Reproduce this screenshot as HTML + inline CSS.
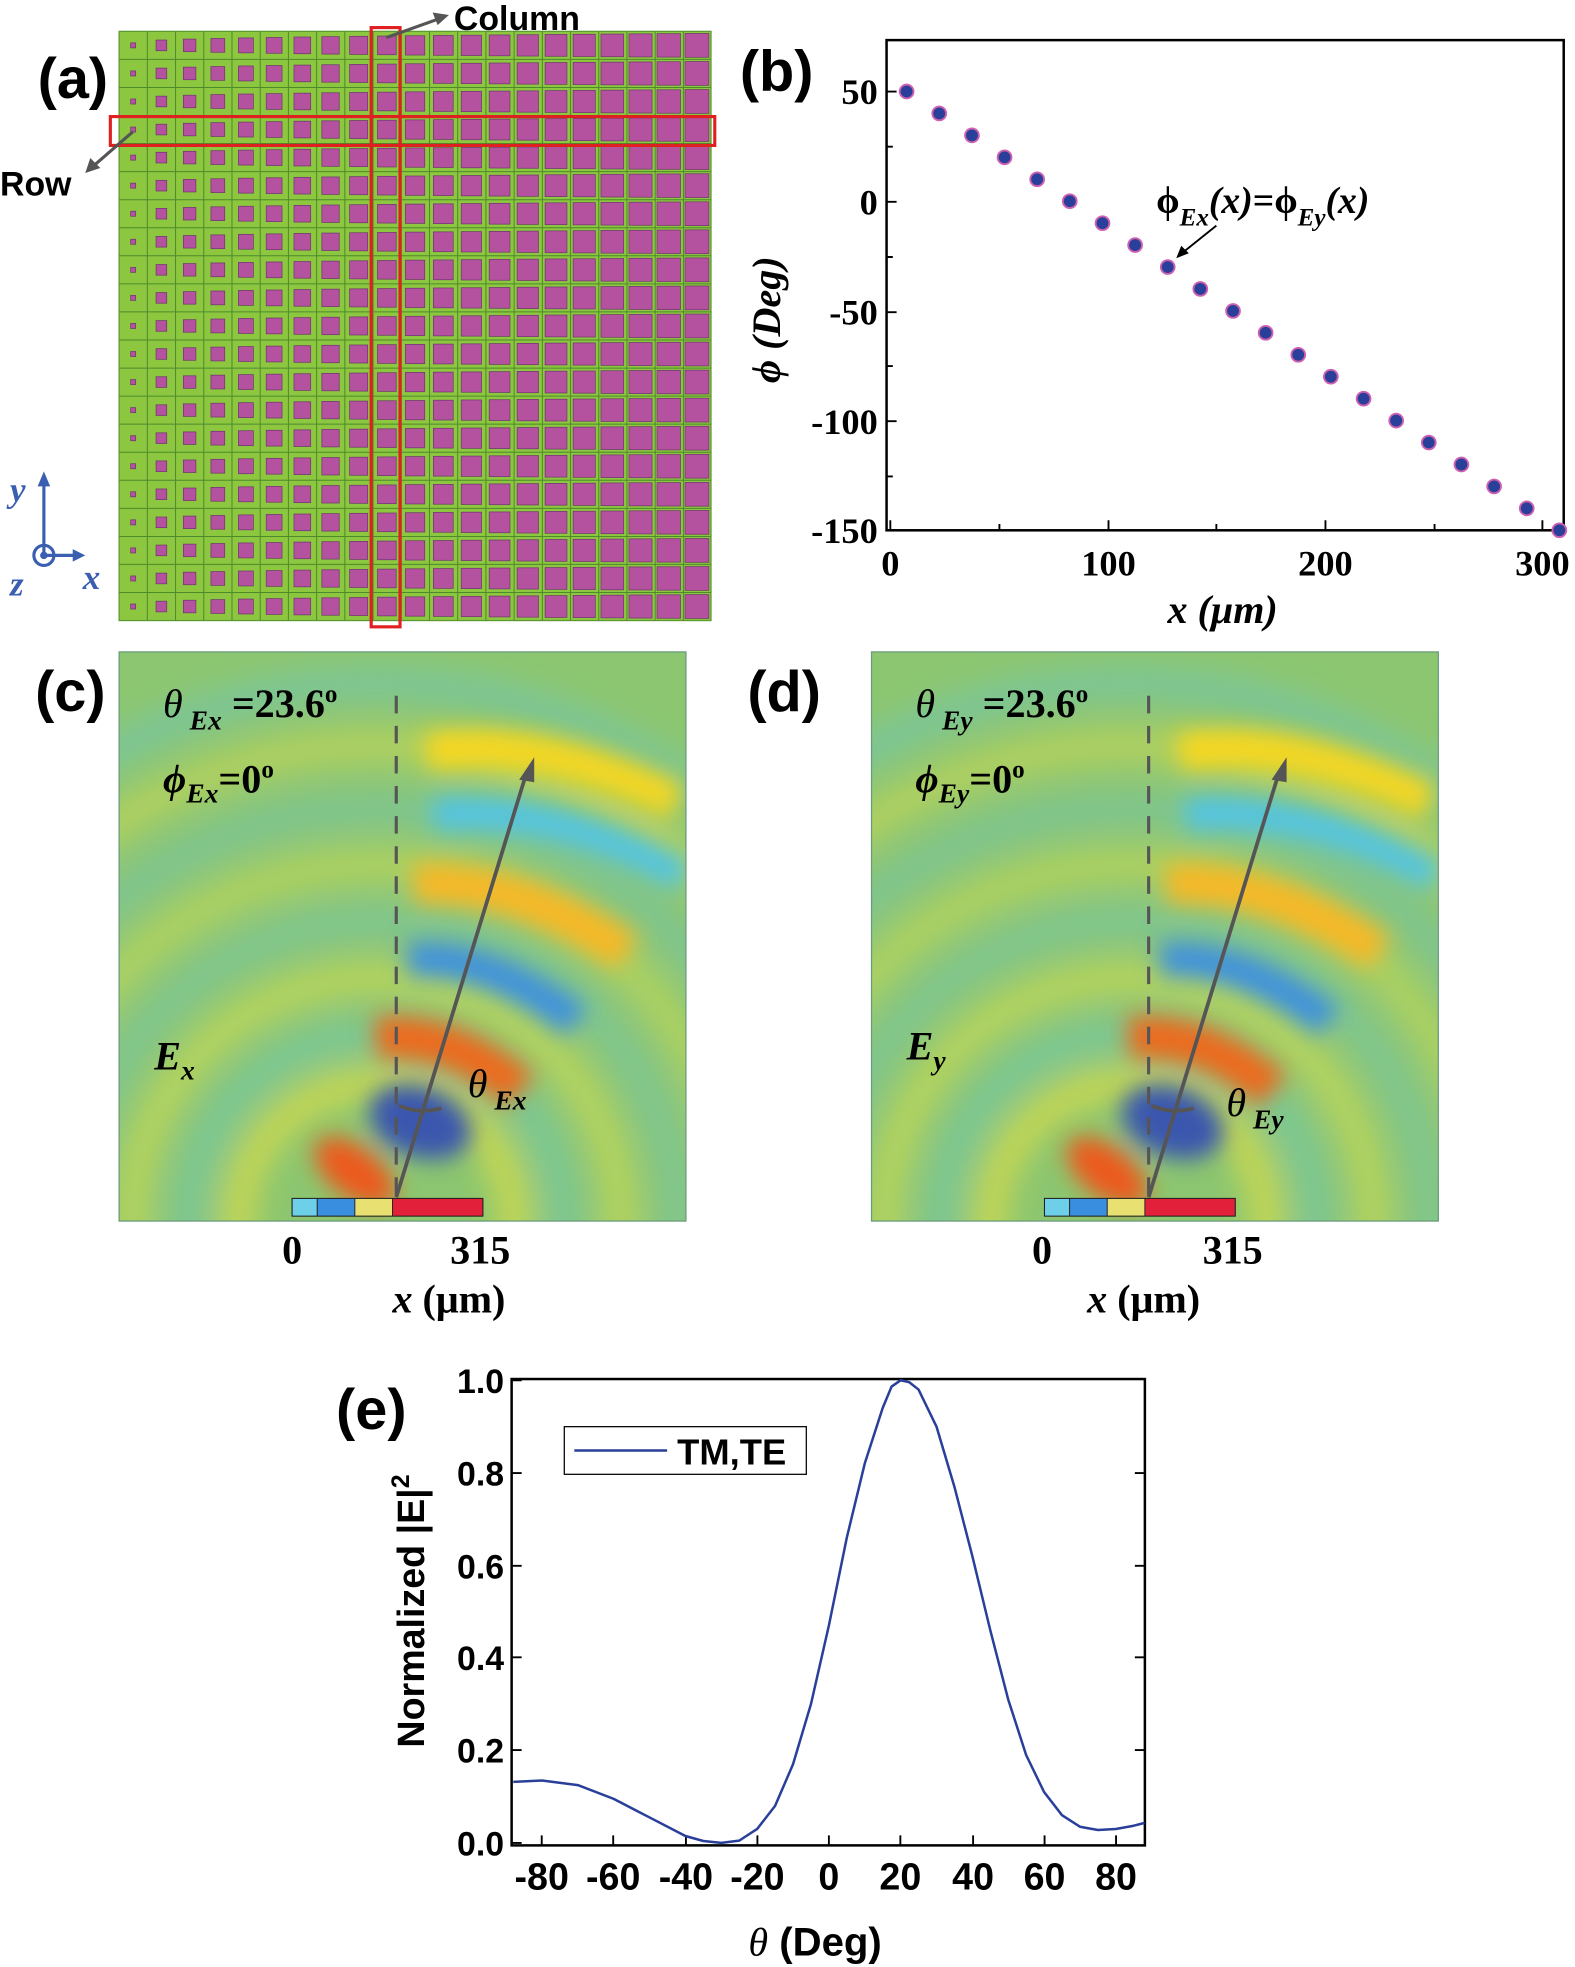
<!DOCTYPE html>
<html><head><meta charset="utf-8"><style>html,body{margin:0;padding:0;background:#fff}svg{display:block}</style></head>
<body>
<svg width="1575" height="1967" viewBox="0 0 1256 1569" preserveAspectRatio="none" xmlns="http://www.w3.org/2000/svg" xmlns:xlink="http://www.w3.org/1999/xlink" font-family="Liberation Sans, sans-serif">
<defs>
<filter id="bl" x="-50%" y="-50%" width="200%" height="200%"><feGaussianBlur stdDeviation="12"/></filter>
<filter id="bl2" x="-50%" y="-50%" width="200%" height="200%"><feGaussianBlur stdDeviation="9"/></filter>
<clipPath id="cc"><rect x="95" y="520" width="452" height="454"/></clipPath>
<g id="row" fill="#b5529f" stroke="#6e3a6e" stroke-width="0.6">
<rect x="104.2" y="34.2" width="4" height="4"/>
<rect x="124.45" y="31.95" width="8.5" height="8.5"/>
<rect x="146.2" y="31.2" width="10" height="10"/>
<rect x="168.2" y="30.7" width="11" height="11"/>
<rect x="190.15" y="30.25" width="11.9" height="11.9"/>
<rect x="212.3" y="29.9" width="12.6" height="12.6"/>
<rect x="234.45" y="29.55" width="13.3" height="13.3"/>
<rect x="256.65" y="29.25" width="13.9" height="13.9"/>
<rect x="278.8" y="29" width="14.4" height="14.4"/>
<rect x="301.05" y="28.75" width="14.9" height="14.9"/>
<rect x="323.3" y="28.5" width="15.4" height="15.4"/>
<rect x="345.6" y="28.3" width="15.8" height="15.8"/>
<rect x="367.8" y="28.1" width="16.2" height="16.2"/>
<rect x="390.1" y="27.9" width="16.6" height="16.6"/>
<rect x="412.4" y="27.7" width="17" height="17"/>
<rect x="434.7" y="27.5" width="17.4" height="17.4"/>
<rect x="457.05" y="27.35" width="17.7" height="17.7"/>
<rect x="479.25" y="27.15" width="18.1" height="18.1"/>
<rect x="501.6" y="27" width="18.4" height="18.4"/>
<rect x="523.95" y="26.85" width="18.7" height="18.7"/>
<rect x="546.3" y="26.7" width="19" height="19"/>
</g>
<g id="field">
<rect x="95" y="520" width="452" height="454" fill="#8cc670"/>
<g filter="url(#bl)" fill="none" stroke-width="24">
<circle cx="300" cy="975" r="110" stroke="#f3e43a" opacity=".6"/>
<circle cx="300" cy="975" r="150" stroke="#5cc8d8" opacity=".4"/>
<circle cx="300" cy="975" r="195" stroke="#e9e545" opacity=".5"/>
<circle cx="300" cy="975" r="240" stroke="#62c6d8" opacity=".35"/>
<circle cx="300" cy="975" r="285" stroke="#e0e24a" opacity=".45"/>
<circle cx="300" cy="975" r="330" stroke="#60c4d6" opacity=".35"/>
<circle cx="300" cy="975" r="380" stroke="#e8e048" opacity=".45"/>
<circle cx="300" cy="975" r="430" stroke="#5ec4dc" opacity=".4"/>
</g>
<g filter="url(#bl2)">
<path d="M340 600 Q430 585 540 640" stroke="#ffd81a" stroke-width="30" fill="none" opacity=".9"/>
<path d="M345 650 Q440 640 545 700" stroke="#4cc4ec" stroke-width="26" fill="none" opacity=".9"/>
<path d="M330 705 Q410 700 500 760" stroke="#f6b825" stroke-width="32" fill="none"/>
<path d="M325 765 Q390 760 460 815" stroke="#3f92dc" stroke-width="28" fill="none"/>
<path d="M300 828 Q360 822 415 870" stroke="#ec6a1e" stroke-width="34" fill="none"/>
<ellipse cx="335" cy="895" rx="42" ry="28" transform="rotate(20 335 895)" fill="#3a56ae"/>
<ellipse cx="283" cy="935" rx="38" ry="20" transform="rotate(38 283 935)" fill="#ec5a1c"/>
</g>
<rect x="233" y="956" width="152" height="14" fill="#fff" stroke="#222" stroke-width="1"/>
<g stroke="#222" stroke-width="0.7">
<rect x="233" y="956" width="20" height="14" fill="#6ed0e8"/><rect x="253" y="956" width="30" height="14" fill="#3a8ee0"/><rect x="283" y="956" width="30" height="14" fill="#e8e070"/><rect x="313" y="956" width="72" height="14" fill="#e2203a"/>
</g>
<line x1="316" y1="555" x2="316" y2="955" stroke="#555" stroke-width="2.5" stroke-dasharray="14,10"/>
<line x1="316" y1="955" x2="420" y2="616" stroke="#555" stroke-width="3"/>
<polygon points="426,604 414,622 426,624" fill="#555"/>
<path d="M318 882 Q335 889 352 884" fill="none" stroke="#555" stroke-width="3"/>
</g>
</defs>

<!-- (a) -->
<text x="30" y="78" font-size="46" font-weight="bold">(a)</text>
<rect x="95" y="25" width="472" height="470" fill="#8dc63f" stroke="#5a9a30"/>
<g stroke="#4d8a2c" stroke-width="0.8" fill="none">
<path d="M117.5 25V495M140 25V495M162.5 25V495M185 25V495M207.5 25V495M230 25V495M252.5 25V495M275 25V495M297.5 25V495M320 25V495M342.5 25V495M365 25V495M387.5 25V495M410 25V495M432.5 25V495M455 25V495M477.5 25V495M500 25V495M522.5 25V495M545 25V495"/>
<path d="M95 47.4H567M95 69.8H567M95 92.1H567M95 114.5H567M95 136.9H567M95 159.3H567M95 181.7H567M95 204H567M95 226.4H567M95 248.8H567M95 271.2H567M95 293.6H567M95 316H567M95 338.3H567M95 360.7H567M95 383.1H567M95 405.5H567M95 427.9H567M95 450.2H567M95 472.6H567"/>
</g>
<use href="#row" xlink:href="#row"/>
<use href="#row" xlink:href="#row" y="22.38"/>
<use href="#row" xlink:href="#row" y="44.76"/>
<use href="#row" xlink:href="#row" y="67.14"/>
<use href="#row" xlink:href="#row" y="89.52"/>
<use href="#row" xlink:href="#row" y="111.9"/>
<use href="#row" xlink:href="#row" y="134.28"/>
<use href="#row" xlink:href="#row" y="156.66"/>
<use href="#row" xlink:href="#row" y="179.04"/>
<use href="#row" xlink:href="#row" y="201.42"/>
<use href="#row" xlink:href="#row" y="223.8"/>
<use href="#row" xlink:href="#row" y="246.18"/>
<use href="#row" xlink:href="#row" y="268.56"/>
<use href="#row" xlink:href="#row" y="290.94"/>
<use href="#row" xlink:href="#row" y="313.32"/>
<use href="#row" xlink:href="#row" y="335.7"/>
<use href="#row" xlink:href="#row" y="358.08"/>
<use href="#row" xlink:href="#row" y="380.46"/>
<use href="#row" xlink:href="#row" y="402.84"/>
<use href="#row" xlink:href="#row" y="425.22"/>
<use href="#row" xlink:href="#row" y="447.6"/>
<rect x="88" y="93" width="482" height="23" fill="none" stroke="#e02020" stroke-width="2.5"/>
<rect x="296" y="22" width="23" height="478" fill="none" stroke="#e02020" stroke-width="2.5"/>
<line x1="308" y1="30" x2="350" y2="15" stroke="#555" stroke-width="2.5"/><polygon points="358,12 345,10 349,20" fill="#555"/>
<text x="362" y="24" font-size="27" font-weight="bold">Column</text>
<line x1="106" y1="105" x2="75" y2="132" stroke="#555" stroke-width="2.5"/><polygon points="68,138 72,126 80,134" fill="#555"/>
<text x="0" y="156" font-size="27" font-weight="bold">Row</text>
<g stroke="#3a5fb0" stroke-width="2.5" fill="none"><line x1="35" y1="443" x2="35" y2="385"/><line x1="35" y1="443" x2="62" y2="443"/><circle cx="35" cy="443" r="8"/></g>
<circle cx="35" cy="443" r="3" fill="#3a5fb0"/>
<polygon points="35,376 30,388 40,388" fill="#3a5fb0"/><polygon points="68,443 58,438 58,448" fill="#3a5fb0"/>
<g font-family="Liberation Serif, serif" font-style="italic" font-weight="bold" fill="#3a5fb0" font-size="28"><text x="8" y="400">y</text><text x="8" y="475">z</text><text x="66" y="470">x</text></g>

<!-- (b) -->
<text x="590" y="72" font-size="46" font-weight="bold">(b)</text>
<rect x="707" y="32" width="540" height="391" fill="none" stroke="#000" stroke-width="2"/>
<g stroke="#000" stroke-width="1.5">
<path d="M710 423v-8M797 423v-5M884 423v-8M970 423v-5M1057 423v-8M1144 423v-5M1230 423v-8"/>
<path d="M707 73h8M707 117h5M707 161h8M707 205h5M707 249h8M707 292h5M707 336h8M707 380h5M707 423h8"/>
</g>
<g font-family="Liberation Serif, serif" font-weight="bold" font-size="29" text-anchor="end">
<text x="700" y="83">50</text><text x="700" y="171">0</text><text x="700" y="259">-50</text><text x="700" y="346">-100</text><text x="700" y="433">-150</text></g>
<g font-family="Liberation Serif, serif" font-weight="bold" font-size="29" text-anchor="middle">
<text x="710" y="459">0</text><text x="884" y="459">100</text><text x="1057" y="459">200</text><text x="1230" y="459">300</text></g>
<text x="975" y="497" font-family="Liberation Serif, serif" font-weight="bold" font-style="italic" font-size="32" text-anchor="middle">x (μm)</text>
<text transform="translate(622 255) rotate(-90)" font-family="Liberation Serif, serif" font-weight="bold" font-style="italic" font-size="32" text-anchor="middle">ϕ (Deg)</text>
<g fill="#2a3f9a" stroke="#d060b0" stroke-width="1.5">
<circle cx="723" cy="73" r="5.5"/><circle cx="749" cy="90.5" r="5.5"/><circle cx="775.1" cy="108" r="5.5"/><circle cx="801.1" cy="125.5" r="5.5"/><circle cx="827.1" cy="143" r="5.5"/><circle cx="853.1" cy="160.5" r="5.5"/><circle cx="879.2" cy="178" r="5.5"/><circle cx="905.2" cy="195.5" r="5.5"/><circle cx="931.2" cy="213" r="5.5"/><circle cx="957.2" cy="230.5" r="5.5"/><circle cx="983.3" cy="248" r="5.5"/><circle cx="1009.3" cy="265.5" r="5.5"/><circle cx="1035.3" cy="283" r="5.5"/><circle cx="1061.3" cy="300.5" r="5.5"/><circle cx="1087.4" cy="318" r="5.5"/><circle cx="1113.4" cy="335.5" r="5.5"/><circle cx="1139.4" cy="353" r="5.5"/><circle cx="1165.4" cy="370.5" r="5.5"/><circle cx="1191.5" cy="388" r="5.5"/><circle cx="1217.5" cy="405.5" r="5.5"/><circle cx="1243.5" cy="423" r="5.5"/>
</g>
<text x="922" y="170" font-family="Liberation Serif, serif" font-weight="bold" font-size="30">ϕ<tspan font-style="italic" font-size="20" dy="10">Ex</tspan><tspan dy="-10" font-style="italic">(x)</tspan>=ϕ<tspan font-style="italic" font-size="20" dy="10">Ey</tspan><tspan dy="-10" font-style="italic">(x)</tspan></text>
<line x1="970" y1="180" x2="945" y2="200" stroke="#000" stroke-width="1.5"/><polygon points="938,206 942,196 948,202" fill="#000"/>

<!-- (c) -->
<text x="28" y="567" font-size="46" font-weight="bold">(c)</text>
<g clip-path="url(#cc)"><use href="#field" xlink:href="#field"/></g>
<rect x="95" y="520" width="452" height="454" fill="none" stroke="#6a9a7a"/>
<g font-family="Liberation Serif, serif" font-weight="bold" font-size="32">
<text x="130" y="572"><tspan font-style="italic" font-weight="normal">θ</tspan><tspan font-style="italic" font-size="22" dy="10"> Ex</tspan><tspan dy="-10"> =23.6</tspan><tspan font-size="20" dy="-12">o</tspan></text>
<text x="130" y="632"><tspan font-style="italic">ϕ</tspan><tspan font-style="italic" font-size="22" dy="8">Ex</tspan><tspan dy="-8">=0</tspan><tspan font-size="20" dy="-12">o</tspan></text>
<text x="123" y="853" font-style="italic">E<tspan font-size="22" dy="8">x</tspan></text>
<text x="373" y="875" font-style="italic" font-weight="normal">θ<tspan font-weight="bold" font-size="22" dy="10"> Ex</tspan></text>
<text x="233" y="1008" text-anchor="middle">0</text><text x="383" y="1008" text-anchor="middle">315</text>
<text x="358" y="1047" text-anchor="middle"><tspan font-style="italic">x</tspan> (μm)</text>
</g>

<!-- (d) -->
<text x="596" y="567" font-size="46" font-weight="bold">(d)</text>
<g transform="translate(600 0)"><g clip-path="url(#cc)"><use href="#field" xlink:href="#field"/></g>
<rect x="95" y="520" width="452" height="454" fill="none" stroke="#6a9a7a"/>
<g font-family="Liberation Serif, serif" font-weight="bold" font-size="32">
<text x="130" y="572"><tspan font-style="italic" font-weight="normal">θ</tspan><tspan font-style="italic" font-size="22" dy="10"> Ey</tspan><tspan dy="-10"> =23.6</tspan><tspan font-size="20" dy="-12">o</tspan></text>
<text x="130" y="632"><tspan font-style="italic">ϕ</tspan><tspan font-style="italic" font-size="22" dy="8">Ey</tspan><tspan dy="-8">=0</tspan><tspan font-size="20" dy="-12">o</tspan></text>
<text x="123" y="845" font-style="italic">E<tspan font-size="22" dy="8">y</tspan></text>
<text x="378" y="890" font-style="italic" font-weight="normal">θ<tspan font-weight="bold" font-size="22" dy="10"> Ey</tspan></text>
<text x="231" y="1008" text-anchor="middle">0</text><text x="383" y="1008" text-anchor="middle">315</text>
<text x="312" y="1047" text-anchor="middle"><tspan font-style="italic">x</tspan> (μm)</text>
</g></g>

<!-- (e) -->
<text x="268" y="1140" font-size="46" font-weight="bold">(e)</text>
<rect x="408" y="1100" width="505" height="372" fill="none" stroke="#000" stroke-width="2"/>
<g stroke="#000" stroke-width="1.5">
<path d="M432 1472v-8M489 1472v-8M547 1472v-8M604 1472v-8M661 1472v-8M718 1472v-8M776 1472v-8M833 1472v-8M890 1472v-8"/>
<path d="M408 1470h8M408 1396h8M408 1322h8M408 1249h8M408 1175h8M408 1101h8M913 1396h-8M913 1322h-8M913 1249h-8M913 1175h-8"/>
</g>
<g font-size="27" font-weight="bold" text-anchor="end"><text x="402" y="1480">0.0</text><text x="402" y="1406">0.2</text><text x="402" y="1332">0.4</text><text x="402" y="1259">0.6</text><text x="402" y="1185">0.8</text><text x="402" y="1111">1.0</text></g>
<g font-size="30" font-weight="bold" text-anchor="middle"><text x="432" y="1507">-80</text><text x="489" y="1507">-60</text><text x="547" y="1507">-40</text><text x="604" y="1507">-20</text><text x="661" y="1507">0</text><text x="718" y="1507">20</text><text x="776" y="1507">40</text><text x="833" y="1507">60</text><text x="890" y="1507">80</text></g>
<text x="650" y="1560" font-size="32" font-weight="bold" text-anchor="middle"><tspan font-family="Liberation Serif, serif" font-style="italic" font-weight="normal">θ</tspan> (Deg)</text>
<text transform="translate(338 1285) rotate(-90)" font-size="30" font-weight="bold" text-anchor="middle">Normalized |E|<tspan font-size="20" dy="-12">2</tspan></text>
<rect x="450" y="1138" width="193" height="38" fill="#fff" stroke="#000" stroke-width="1"/>
<line x1="458" y1="1157" x2="532" y2="1157" stroke="#2a3f9a" stroke-width="2"/>
<text x="540" y="1168" font-size="29" font-weight="bold">TM,TE</text>
<polyline fill="none" stroke="#2a3f9a" stroke-width="2" stroke-linejoin="round" points="409.3,1421.3 432.2,1420.2 460.8,1423.9 489.4,1434.9 518,1449.7 546.6,1464.5 560.9,1468.5 575.2,1470 589.5,1468.2 603.8,1458.9 618.1,1440.5 632.4,1407.3 646.7,1359.3 661,1296.6 675.3,1226.5 689.6,1167.4 703.9,1123.1 711,1106 718.2,1101 725,1102.5 732.5,1108.4 746.8,1137.9 761.1,1185.9 775.4,1241.2 789.7,1300.3 804,1355.6 818.3,1399.9 832.6,1429.4 846.9,1447.9 861.2,1457.1 875.5,1459.7 889.8,1458.9 904.1,1456.3 912.7,1454.1"/>
</svg>
</body></html>
